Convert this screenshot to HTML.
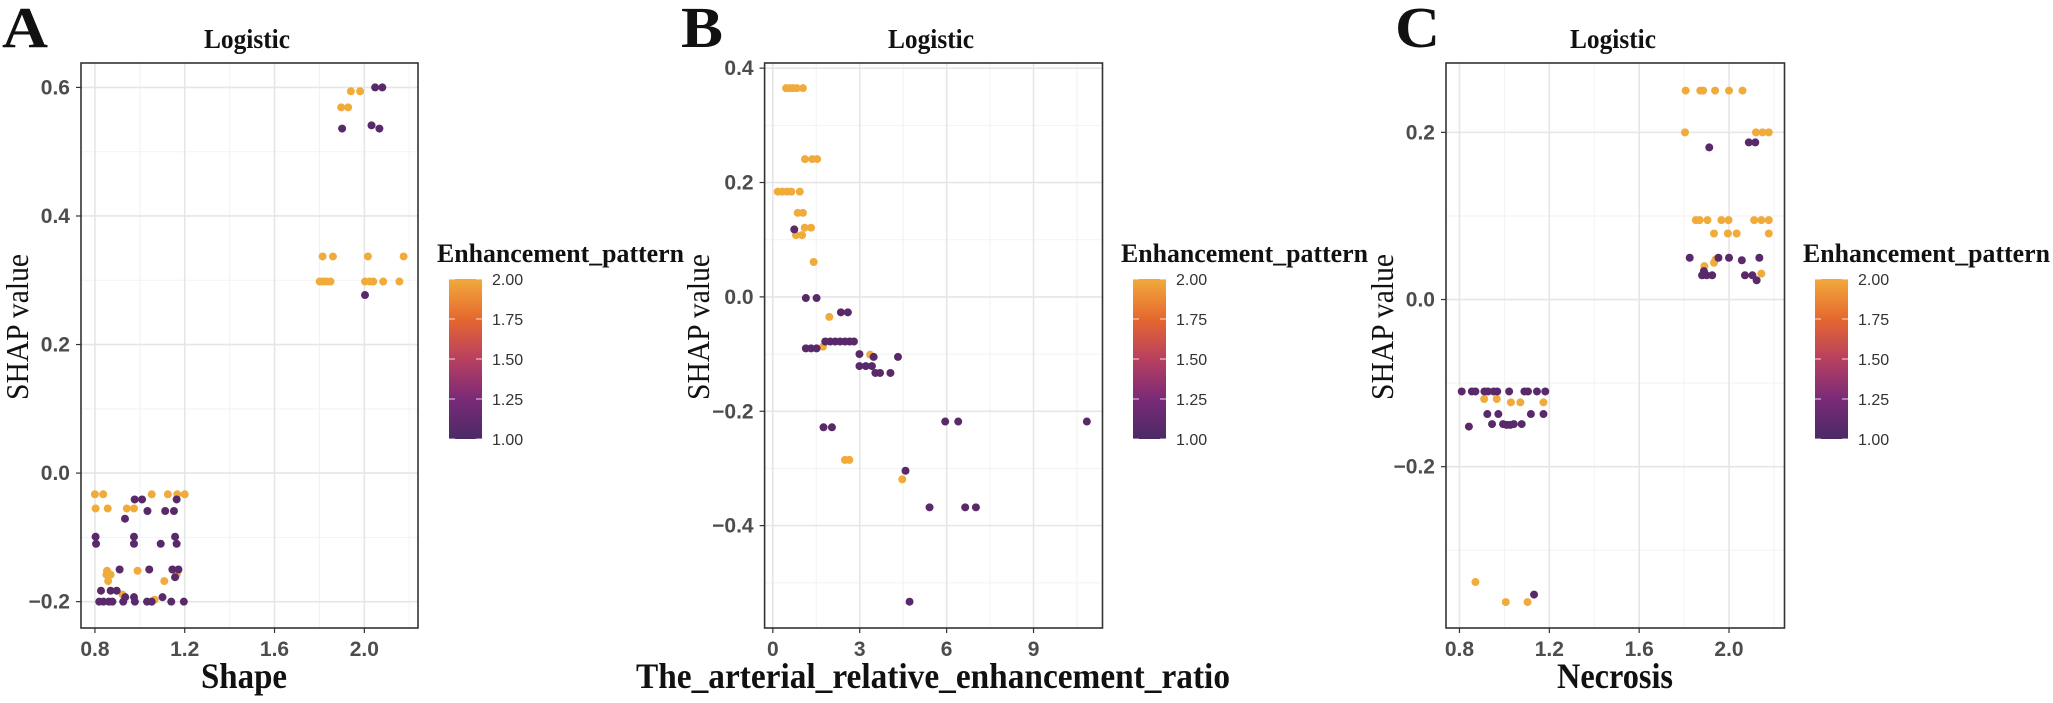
<!DOCTYPE html>
<html><head><meta charset="utf-8"><style>
html,body{margin:0;padding:0;background:#fff;}
svg text{font-family:"Liberation Sans",sans-serif;}
.serif{font-family:"Liberation Serif",serif !important;}
</style></head><body>
<svg id="fig" xmlns="http://www.w3.org/2000/svg" width="2053" height="698" viewBox="0 0 2053 698">
<defs>
<linearGradient id="cbar" x1="0" y1="1" x2="0" y2="0">
<stop offset="0" stop-color="#4b2a66"/>
<stop offset="0.25" stop-color="#7a2a78"/>
<stop offset="0.5" stop-color="#b8405f"/>
<stop offset="0.75" stop-color="#e5682f"/>
<stop offset="1" stop-color="#f2aa3c"/>
</linearGradient>
</defs>
</svg>
<script>
// Panel A: Shape
const aX=[0.8,0.837,1.053,1.125,1.167,1.2,0.803,0.857,0.942,0.974,0.854,0.99,1.169,0.851,0.87,0.859,1.109,1.164,0.923,1.066,1.94,1.981,1.897,1.928,1.814,1.86,2.016,2.175,1.801,1.817,1.833,1.849,2.003,2.024,2.04,2.084,2.156,
2.048,2.08,1.901,2.067,2.032,2.003,0.977,1.01,1.164,1.034,1.113,1.152,0.934,0.803,0.974,1.157,0.805,0.974,1.093,1.164,0.91,1.042,1.145,1.172,1.157,0.827,0.87,0.897,0.935,0.974,1.101,0.819,0.838,0.862,0.878,0.926,0.978,1.032,1.053,1.14,1.196];
const aY=[-0.033,-0.033,-0.033,-0.033,-0.033,-0.033,-0.055,-0.055,-0.055,-0.055,-0.152,-0.152,-0.152,-0.158,-0.158,-0.168,-0.168,-0.158,-0.189,-0.197,0.594,0.594,0.569,0.569,0.337,0.337,0.337,0.337,0.298,0.298,0.298,0.298,0.298,0.298,0.298,0.298,0.298,
0.6,0.6,0.536,0.536,0.541,0.277,-0.041,-0.041,-0.041,-0.059,-0.059,-0.059,-0.071,-0.099,-0.099,-0.099,-0.11,-0.11,-0.11,-0.11,-0.15,-0.15,-0.15,-0.15,-0.162,-0.183,-0.183,-0.183,-0.193,-0.193,-0.193,-0.2,-0.2,-0.2,-0.2,-0.2,-0.2,-0.2,-0.2,-0.2,-0.2];
const aC=[2,2,2,2,2,2,2,2,2,2,2,2,2,2,2,2,2,2,2,2,2,2,2,2,2,2,2,2,2,2,2,2,2,2,2,2,2,
1,1,1,1,1,1,1,1,1,1,1,1,1,1,1,1,1,1,1,1,1,1,1,1,1,1,1,1,1,1,1,1,1,1,1,1,1,1,1,1,1];
// Panel B: arterial relative enhancement ratio
const bX=[0.457,0.58,0.7,0.83,1.04,1.11,1.36,1.53,0.17,0.33,0.49,0.64,0.93,0.86,1.04,1.1,1.32,0.8,1.01,1.41,1.95,1.73,3.36,2.49,2.64,4.47,
0.74,1.14,1.51,2.35,2.59,1.81,1.98,2.15,2.32,2.49,2.65,2.8,1.14,1.32,1.51,2.99,3.48,4.32,2.99,3.21,3.42,3.54,3.7,4.06,5.95,6.4,10.84,1.75,2.04,4.58,5.41,6.64,7.01,4.72];
const bY=[0.365,0.365,0.365,0.365,0.365,0.241,0.241,0.241,0.184,0.184,0.184,0.184,0.184,0.147,0.147,0.121,0.121,0.108,0.108,0.061,-0.035,-0.087,-0.101,-0.285,-0.285,-0.319,
0.118,-0.002,-0.002,-0.027,-0.027,-0.078,-0.078,-0.078,-0.078,-0.078,-0.078,-0.078,-0.09,-0.09,-0.09,-0.1,-0.105,-0.105,-0.121,-0.121,-0.121,-0.133,-0.133,-0.133,-0.218,-0.218,-0.218,-0.228,-0.228,-0.304,-0.368,-0.368,-0.368,-0.533];
const bC=[2,2,2,2,2,2,2,2,2,2,2,2,2,2,2,2,2,2,2,2,2,2,2,2,2,2,
1,1,1,1,1,1,1,1,1,1,1,1,1,1,1,1,1,1,1,1,1,1,1,1,1,1,1,1,1,1,1,1,1,1];
// Panel C: Necrosis
const cX=[0.91,0.966,1.029,1.071,1.174,0.871,1.006,1.103,1.807,1.872,1.885,1.938,2.0,2.06,1.804,2.12,2.149,2.177,1.852,1.869,1.904,1.966,1.998,2.112,2.144,2.177,1.933,1.995,2.034,2.177,1.89,1.933,1.94,2.144,
0.81,0.855,0.871,0.911,0.927,0.952,0.968,1.021,1.089,1.105,1.145,1.182,0.924,0.973,1.118,1.174,0.945,0.994,1.01,1.026,1.042,1.077,0.842,1.132,1.912,2.088,2.117,1.825,1.953,2.0,2.135,2.057,1.88,1.9,1.925,2.071,2.104,2.123,1.888];
const cY=[-0.119,-0.119,-0.123,-0.123,-0.123,-0.338,-0.362,-0.362,0.25,0.25,0.25,0.25,0.25,0.25,0.2,0.2,0.2,0.2,0.095,0.095,0.095,0.095,0.095,0.095,0.095,0.095,0.079,0.079,0.079,0.079,0.04,0.044,0.048,0.031,
-0.11,-0.11,-0.11,-0.11,-0.11,-0.11,-0.11,-0.11,-0.11,-0.11,-0.11,-0.11,-0.137,-0.137,-0.137,-0.137,-0.149,-0.149,-0.15,-0.15,-0.149,-0.149,-0.152,-0.353,0.182,0.188,0.188,0.05,0.05,0.05,0.05,0.047,0.029,0.029,0.029,0.029,0.029,0.023,0.034];
const cC=[2,2,2,2,2,2,2,2,2,2,2,2,2,2,2,2,2,2,2,2,2,2,2,2,2,2,2,2,2,2,2,2,2,2,
1,1,1,1,1,1,1,1,1,1,1,1,1,1,1,1,1,1,1,1,1,1,1,1,1,1,1,1,1,1,1,1,1,1,1,1,1,1,1];
const aXTicks=[0.8,1.2,1.6,2.0], aXLabels=["0.8","1.2","1.6","2.0"];
const aYTicks=[-0.2,0.0,0.2,0.4,0.6], aYLabels=["\u22120.2","0.0","0.2","0.4","0.6"];
const bXTicks=[0,3,6,9], bXLabels=["0","3","6","9"];
const bYTicks=[-0.4,-0.2,0.0,0.2,0.4], bYLabels=["\u22120.4","\u22120.2","0.0","0.2","0.4"];
const cXTicks=[0.8,1.2,1.6,2.0], cXLabels=["0.8","1.2","1.6","2.0"];
const cYTicks=[-0.2,0.0,0.2], cYLabels=["\u22120.2","0.0","0.2"];
const legendTicks=[1.0,1.25,1.5,1.75,2.0], legendLabels=["1.00","1.25","1.50","1.75","2.00"];

const NS="http://www.w3.org/2000/svg";
const svg=document.getElementById('fig');
function mk(tag,attrs,parent){const e=document.createElementNS(NS,tag);for(const k in attrs)e.setAttribute(k,attrs[k]);(parent||svg).appendChild(e);return e;}
function colorFor(v){return (v-1)>0.5?'#f0ab3b':'#59296a';}

function panel(p){
  const g=mk('g',{});
  
  
  const sx=v=>p.L+(v-p.x0)/(p.x1-p.x0)*(p.R-p.L);
  const sy=v=>p.B-(v-p.y0)/(p.y1-p.y0)*(p.B-p.T);
  const xs=p.xt, ys=p.yt;
  const dx=xs[1]-xs[0], dy=ys[1]-ys[0];
  for(let v=xs[0]-dx/2; v<=p.x1; v+=dx){ if(v<p.x0) continue; const l=mk('line',{x1:sx(v),x2:sx(v),y1:p.T,y2:p.B,stroke:'#f2f2f2','stroke-width':1},g);  }
  for(let v=ys[0]-dy/2; v<=p.y1; v+=dy){ if(v<p.y0) continue; const l=mk('line',{x1:p.L,x2:p.R,y1:sy(v),y2:sy(v),stroke:'#f2f2f2','stroke-width':1},g);  }
  xs.forEach((v,i)=>{
    const l=mk('line',{x1:sx(v),x2:sx(v),y1:p.T,y2:p.B,stroke:'#e6e6e6','stroke-width':1.6},g);
     
    const tk=mk('line',{x1:sx(v),x2:sx(v),y1:p.B,y2:p.B+5,stroke:'#333','stroke-width':1.2},g);
     
    const t=mk('text',{x:sx(v),y:p.B+28,'text-anchor':'middle','font-size':21,'font-weight':'bold',fill:'#4d4d4d'},g);
    t.textContent=p.xl[i];
     
  });
  ys.forEach((v,i)=>{
    const l=mk('line',{x1:p.L,x2:p.R,y1:sy(v),y2:sy(v),stroke:'#e6e6e6','stroke-width':1.6},g);
     
    const tk=mk('line',{x1:p.L-5,x2:p.L,y1:sy(v),y2:sy(v),stroke:'#333','stroke-width':1.2},g);
     
    const t=mk('text',{x:p.L-11,y:sy(v)+7,'text-anchor':'end','font-size':21,'font-weight':'bold',fill:'#4d4d4d'},g);
    t.textContent=p.yl[i];
     
  });
  p.X.forEach((v,i)=>{
    const c=mk('circle',{cx:sx(v),cy:sy(p.Y[i]),r:4,fill:colorFor(p.C[i])},g);
    
    
  });
  const box=mk('rect',{x:p.L,y:p.T,width:p.R-p.L,height:p.B-p.T,fill:'none',stroke:'#333','stroke-width':1.6},g);
   
  const ti=mk('text',{x:p.tc,y:48,'text-anchor':'middle','font-size':27,'font-weight':'bold',fill:'#111',class:'serif',textLength:86,lengthAdjust:'spacingAndGlyphs'},g);
  ti.textContent='Logistic';
   
  const lt=mk('text',{x:p.lx,y:47,'font-size':58,'font-weight':'bold',fill:'#111',class:'serif',textLength:p.lw,lengthAdjust:'spacingAndGlyphs'},g);
  lt.textContent=p.letter;
   
  const yl=mk('text',{x:0,y:0,'text-anchor':'middle','font-size':32,fill:'#111',class:'serif',transform:`translate(${p.yx},327) rotate(-90)`,textLength:146,lengthAdjust:'spacingAndGlyphs'},g);
  yl.textContent='SHAP value';
   
  const xl=mk('text',{x:p.xc,y:688,'text-anchor':'middle','font-size':36,'font-weight':'bold',fill:'#111',class:'serif',textLength:p.xw,lengthAdjust:'spacingAndGlyphs'},g);
  xl.textContent=p.xlab;
   
  const lg=mk('g',{},g);
   
  const ltt=mk('text',{x:p.gx,y:262,'font-size':26,'font-weight':'bold',fill:'#111',class:'serif',textLength:247,lengthAdjust:'spacingAndGlyphs'},lg);
  ltt.textContent='Enhancement_pattern';
   
  const bx=p.gx+12, bT=279, bB=439;
  const r=mk('rect',{x:bx,y:bT,width:33,height:bB-bT,fill:'url(#cbar)'},lg);
   
  legendTicks.forEach((v,i)=>{
    const y=bB-(v-1)*(bB-bT);
    const a=mk('line',{x1:bx,x2:bx+6,y1:y,y2:y,stroke:'#fff','stroke-width':1,opacity:0.8},lg);
     
    const b=mk('line',{x1:bx+27,x2:bx+33,y1:y,y2:y,stroke:'#fff','stroke-width':1,opacity:0.8},lg);
     
    const t=mk('text',{x:bx+43,y:y+6,'font-size':16,fill:'#333'},lg);
    t.textContent=legendLabels[i];
     
  });
}
panel({name:'shape',L:81,R:418,T:63,B:628,x0:0.738,x1:2.239,y0:-0.241,y1:0.638,X:aX,Y:aY,C:aC,xt:aXTicks,xl:aXLabels,yt:aYTicks,yl:aYLabels,tc:247,letter:'A',lx:2,lw:46,yx:28,xc:244,xw:86,xlab:'Shape',gx:437});
panel({name:'arterial-ratio',L:764.6,R:1102.5,T:63,B:628,x0:-0.284,x1:11.38,y0:-0.579,y1:0.409,X:bX,Y:bY,C:bC,xt:bXTicks,xl:bXLabels,yt:bYTicks,yl:bYLabels,tc:931,letter:'B',lx:681,lw:42,yx:709,xc:933,xw:594,xlab:'The_arterial_relative_enhancement_ratio',gx:1121});
panel({name:'necrosis',L:1446,R:1784.5,T:63,B:628,x0:0.74,x1:2.247,y0:-0.393,y1:0.283,X:cX,Y:cY,C:cC,xt:cXTicks,xl:cXLabels,yt:cYTicks,yl:cYLabels,tc:1613,letter:'C',lx:1395,lw:45,yx:1393,xc:1615,xw:116,xlab:'Necrosis',gx:1803});
</script>
</body></html>
